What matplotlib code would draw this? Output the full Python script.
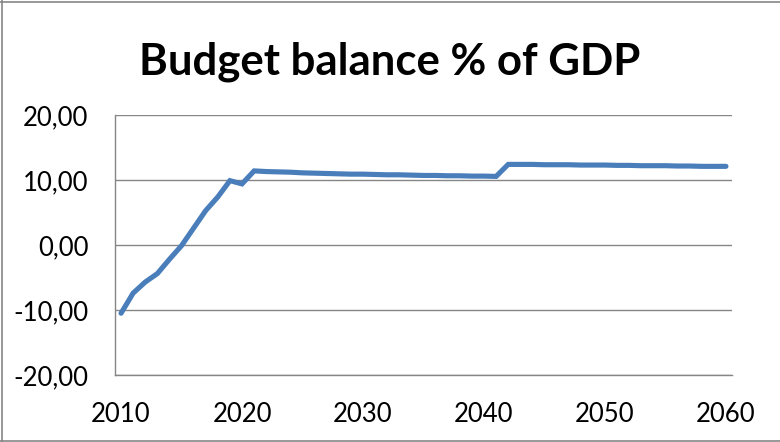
import matplotlib
matplotlib.use("Agg")
import matplotlib.pyplot as plt
from matplotlib.lines import Line2D
from matplotlib.ticker import FuncFormatter

# Budget balance as % of GDP, one value per year
years = list(range(2010, 2061))
balance = [
    -10.5, -7.4, -5.7, -4.4, -2.2, -0.1, 2.6, 5.3, 7.4, 9.9,   # 2010-2019
    9.4, 11.4, 11.3, 11.25, 11.2, 11.1, 11.05, 11.0, 10.95, 10.9,  # 2020-2029
    10.9, 10.85, 10.8, 10.8, 10.75, 10.7, 10.7, 10.65, 10.65, 10.6,  # 2030-2039
    10.6, 10.55, 12.4, 12.4, 12.4, 12.35, 12.35, 12.35, 12.3, 12.3,  # 2040-2049
    12.3, 12.25, 12.25, 12.2, 12.2, 12.2, 12.15, 12.15, 12.1, 12.1,  # 2050-2059
    12.1,  # 2060
]
x_ticks = [2010, 2020, 2030, 2040, 2050, 2060]
y_ticks = [-20, -10, 0, 10, 20]
title = "Budget balance % of GDP"

GRID = "#868686"
LINE = "#4A7EBB"

fig = plt.figure(figsize=(7.8, 4.42), dpi=100)
fig.patch.set_facecolor("white")

# chart-area frame (top, left and bottom edges)
for xs, ys in (([0, 1], [0.996, 0.996]), ([0.003, 0.003], [0, 1]), ([0, 1], [0.002, 0.002])):
    fig.add_artist(Line2D(xs, ys, transform=fig.transFigure, color=GRID, linewidth=1.2))

ax = fig.add_axes([115 / 780, 1 - 375 / 442, (732 - 115) / 780, (375 - 115) / 442])
ax.plot(years, balance, color=LINE, linewidth=3.7, solid_capstyle="round",
        solid_joinstyle="miter", zorder=3)

ax.set_xlim(2009.5, 2060.5)
ax.set_ylim(-20, 20)
ax.set_xticks(x_ticks)
ax.set_yticks(y_ticks)
ax.yaxis.set_major_formatter(FuncFormatter(lambda v, p: f"{v:.2f}".replace(".", ",")))

ax.grid(axis="y", color=GRID, linewidth=1.0)
ax.set_axisbelow(True)
for side in ("top", "right"):
    ax.spines[side].set_visible(False)
for side in ("left", "bottom"):
    ax.spines[side].set_color(GRID)
    ax.spines[side].set_linewidth(1.0)
ax.tick_params(axis="both", length=0, labelsize=18.5, labelcolor="black")
ax.tick_params(axis="x", pad=19.5)
ax.tick_params(axis="y", pad=19)
for lab in ax.get_xticklabels() + ax.get_yticklabels():
    lab.set_fontfamily("Lato")

fig.text(0.5, 1 - 62 / 442, title, ha="center", va="center",
         fontsize=31.5, fontweight="bold", family="Lato")

fig.savefig("out.png", dpi=100)
